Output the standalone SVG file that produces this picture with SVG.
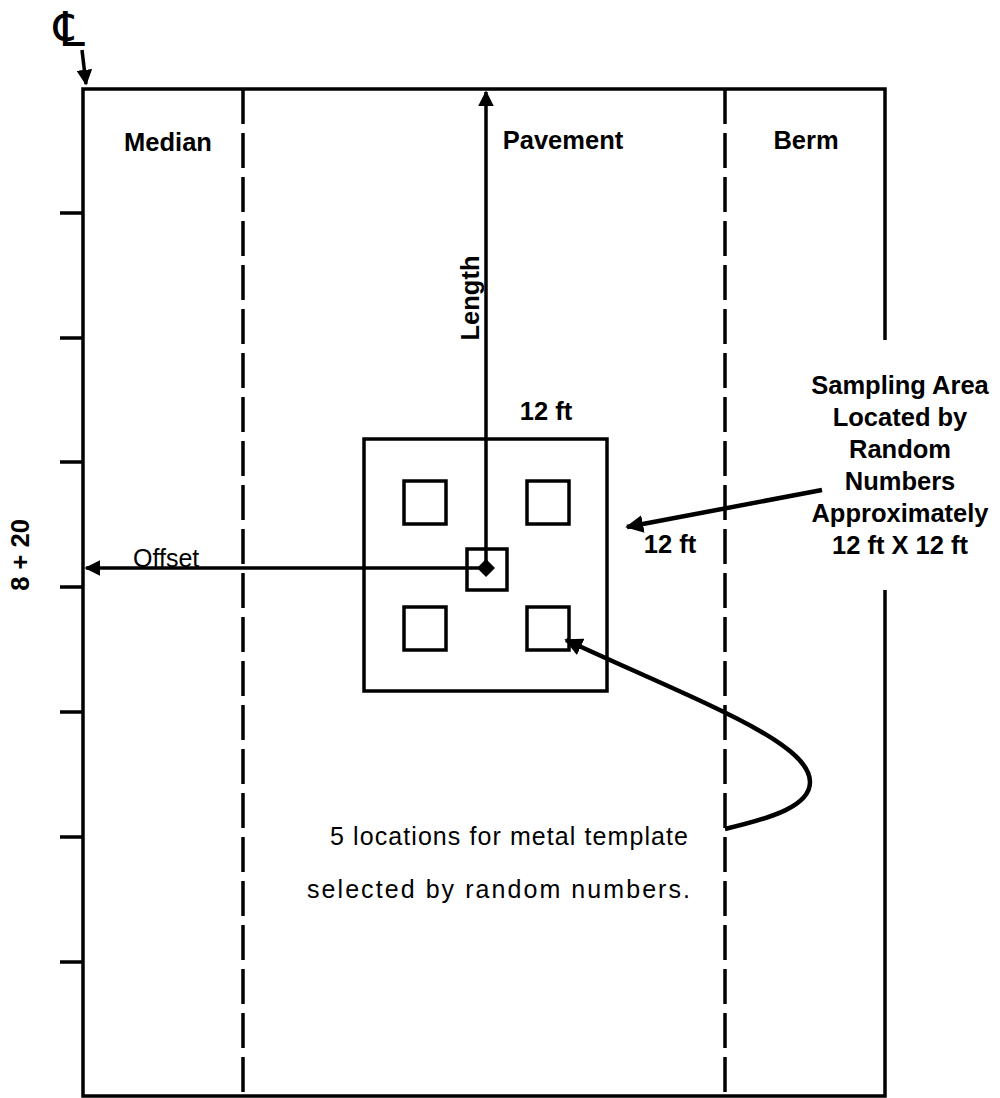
<svg xmlns="http://www.w3.org/2000/svg" width="1000" height="1098" viewBox="0 0 1000 1098">
<style>
.ln{stroke:#000;stroke-width:3.5;fill:none}
.dash{stroke:#000;stroke-width:3.5;fill:none;stroke-dasharray:35 9}
.b{font-family:"Liberation Sans",Arial,sans-serif;font-weight:bold;font-size:25.5px;fill:#000}
.r{font-family:"Liberation Sans",Arial,sans-serif;font-size:25px;fill:#000}
</style>
<defs>
<marker id="ah" viewBox="0 0 10 10" refX="9" refY="5" markerWidth="4.5" markerHeight="4.5" orient="auto" markerUnits="strokeWidth">
<path d="M0,0 L10,5 L0,10 z" fill="#000"/>
</marker>
<marker id="ah2" viewBox="0 0 10 10" refX="9" refY="5" markerWidth="4" markerHeight="4" orient="auto" markerUnits="strokeWidth">
<path d="M0,0 L10,5 L0,10 z" fill="#000"/>
</marker>
</defs>
<rect width="1000" height="1098" fill="#fff"/>
<g id="frame">
<path class="ln" d="M885,340 L885,89 L83,89 L83,1096 L885,1096 L885,590"/>
<line class="dash" x1="243" y1="89" x2="243" y2="1096"/>
<line class="dash" x1="725" y1="89" x2="725" y2="1096"/>
</g>
<g id="ticks" class="ln">
<line x1="60" y1="213" x2="83" y2="213"/>
<line x1="60" y1="338" x2="83" y2="338"/>
<line x1="60" y1="462" x2="83" y2="462"/>
<line x1="60" y1="587" x2="83" y2="587"/>
<line x1="60" y1="712" x2="83" y2="712"/>
<line x1="60" y1="837" x2="83" y2="837"/>
<line x1="60" y1="962" x2="83" y2="962"/>
</g>
<g id="centerline">
<text x="54" y="46" font-family="DejaVu Sans,sans-serif" font-size="48" fill="#000">℄</text>
</g>
<g id="sampling-area">
<rect class="ln" x="364" y="439" width="243" height="252"/>
<rect class="ln" x="404" y="481" width="42" height="43"/>
<rect class="ln" x="527" y="481" width="42" height="43"/>
<rect class="ln" x="467" y="549" width="40" height="41"/>
<rect class="ln" x="404" y="607" width="42" height="43"/>
<rect class="ln" x="527" y="607" width="42" height="43"/>
</g>
<g id="connectors">
<line class="ln" x1="82" y1="50" x2="86" y2="84" marker-end="url(#ah)"/>
<line class="ln" x1="486" y1="568" x2="486" y2="92" marker-end="url(#ah)"/>
<line class="ln" x1="486" y1="568" x2="86" y2="568" marker-end="url(#ah)"/>
<path d="M486,559 L495,568 L486,577 L477,568 z" fill="#000"/>
<line x1="822" y1="490" x2="627" y2="527" stroke="#000" stroke-width="4.5" marker-end="url(#ah2)"/>
<path d="M725,829 C772,818 810,806 810,782 C810,742 700,702 566,640" fill="none" stroke="#000" stroke-width="4.5" marker-end="url(#ah2)"/>
</g>
<g id="labels">
<text class="b" x="168" y="151" text-anchor="middle">Median</text>
<text class="b" x="563" y="149" text-anchor="middle">Pavement</text>
<text class="b" x="806" y="149" text-anchor="middle">Berm</text>
<text class="b" transform="translate(479,298) rotate(-90)" text-anchor="middle">Length</text>
<text class="b" x="546" y="420" text-anchor="middle">12 ft</text>
<text class="b" x="670" y="553" text-anchor="middle">12 ft</text>
<text class="b" transform="translate(29,555) rotate(-90)" text-anchor="middle">8 + 20</text>
<text class="r" x="133" y="567">Offset</text>
<g text-anchor="middle">
<text class="b" x="900" y="394">Sampling Area</text>
<text class="b" x="900" y="426">Located by</text>
<text class="b" x="900" y="458">Random</text>
<text class="b" x="900" y="490">Numbers</text>
<text class="b" x="900" y="522">Approximately</text>
<text class="b" x="900" y="554">12 ft X 12 ft</text>
</g>
<text class="r" x="330" y="845" textLength="358" lengthAdjust="spacing">5 locations for metal template</text>
<text class="r" x="307" y="898" textLength="383" lengthAdjust="spacing">selected by random numbers.</text>
</g>
</svg>
